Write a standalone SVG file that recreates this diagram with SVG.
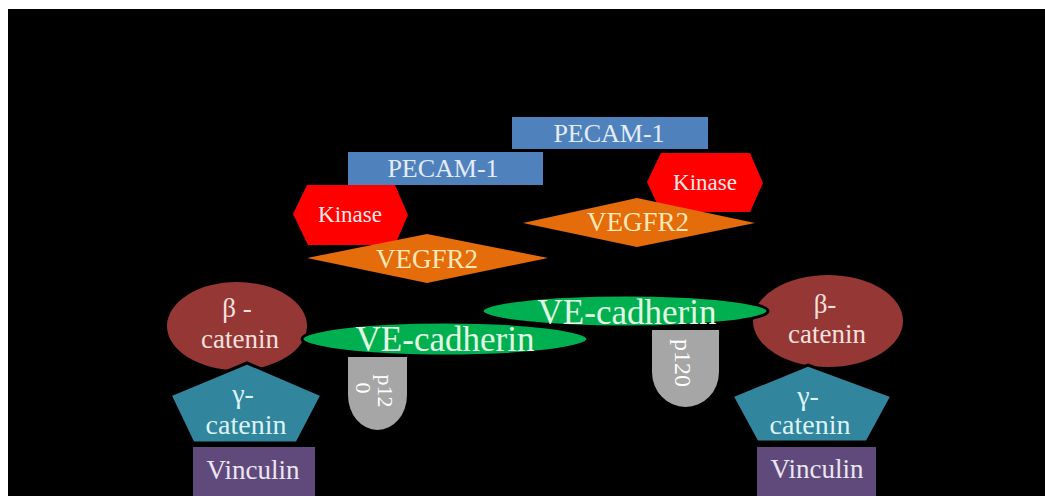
<svg xmlns="http://www.w3.org/2000/svg" width="1045" height="496" viewBox="0 0 1045 496">
<style>
text{font-family:'Liberation Serif','DejaVu Serif',serif;text-anchor:middle}
.pecam{fill:#4f81bd}
.kin{fill:#ff0000}
.veg{fill:#e46c0a}
.bcat{fill:#953735}
.gcat{fill:#31859c;stroke:#000;stroke-width:3}
.vin{fill:#604a7b}
.vec{fill:#00b050;stroke:#000;stroke-width:3}
.p120{fill:#a6a6a6}
.tp{fill:#e3ecf7;font-size:26px}
.tk{fill:#ffe6e6;font-size:23px}
.tv{fill:#ffe8b8;font-size:27px}
.tb{fill:#f6e0df;font-size:27px}
.tg{fill:#dcf3f8;font-size:28px}
.ti{fill:#ece6f3;font-size:27px}
.te{fill:#e2fbe2;font-size:35px}
.tw{fill:#ffffff;font-size:24px}
</style>
<rect x="0" y="0" width="1045" height="496" fill="#ffffff"/>
<rect x="8" y="9" width="1037" height="487" fill="#000000"/>
<g id="pecam1-top"><rect class="pecam" x="512" y="117" width="196" height="32"/><text class="tp" x="609" y="142">PECAM-1</text></g>
<g id="pecam1-left"><rect class="pecam" x="348" y="152" width="195" height="33"/><text class="tp" x="443" y="177">PECAM-1</text></g>
<g id="kinase-left"><polygon class="kin" points="293,214 307,185 395,185 408,215 395,245 308,245"/><text class="tk" x="350" y="222">Kinase</text></g>
<g id="kinase-right"><polygon class="kin" points="647,182 661,153 750,153 763,183 750,212 661,212"/><text class="tk" x="705" y="190">Kinase</text></g>
<g id="vegfr2-right"><polygon class="veg" points="523,223 637,198 755,223 637,247"/><text class="tv" x="638" y="231">VEGFR2</text></g>
<g id="vegfr2-left"><polygon class="veg" points="307,258 427,234 548,258 427,283"/><text class="tv" x="427" y="268">VEGFR2</text></g>
<g id="beta-catenin-left"><ellipse class="bcat" cx="237" cy="326" rx="70" ry="44"/><text class="tb" x="237" y="317">β -</text><text class="tb" x="240" y="348">catenin</text></g>
<g id="beta-catenin-right"><ellipse class="bcat" cx="828" cy="321" rx="75" ry="46"/><text class="tb" x="825" y="313">β-</text><text class="tb" x="827" y="343">catenin</text></g>
<g id="gamma-catenin-left"><polygon class="gcat" points="247,363 322,395 297,443 193,443 170,395"/><text class="tg" x="243" y="403">γ-</text><text class="tg" x="246" y="434">catenin</text></g>
<g id="gamma-catenin-right"><polygon class="gcat" points="808,365 892,396 867,442 757,442 732,396"/><text class="tg" x="808" y="405">γ-</text><text class="tg" x="810" y="434">catenin</text></g>
<g id="vinculin-left"><rect class="vin" x="193" y="447" width="122" height="49"/><text class="ti" x="253" y="479">Vinculin</text></g>
<g id="vinculin-right"><rect class="vin" x="757" y="447" width="119" height="49"/><text class="ti" x="817" y="478">Vinculin</text></g>
<g id="ve-cadherin-left"><ellipse class="vec" cx="445" cy="339" rx="143" ry="17"/><text class="te" x="445" y="351">VE-cadherin</text></g>
<g id="ve-cadherin-right"><ellipse class="vec" cx="625" cy="311" rx="143" ry="16"/><text class="te" x="627" y="324">VE-cadherin</text></g>
<g id="p120-left"><path class="p120" d="M348,357 H407 V395 A29.5,35 0 0 1 348,395 Z"/><text class="tw" style="font-size:22px" x="378" y="391" transform="rotate(90 378 391)">p12</text><text class="tw" style="font-size:22px" x="356" y="388" transform="rotate(90 356 388)">0</text></g>
<g id="p120-right"><path class="p120" d="M652,330 H719 V372 A33.5,35 0 0 1 652,372 Z"/><text class="tw" x="675" y="363" transform="rotate(90 675 363)">p120</text></g>
<g id="connectors"></g>
</svg>
